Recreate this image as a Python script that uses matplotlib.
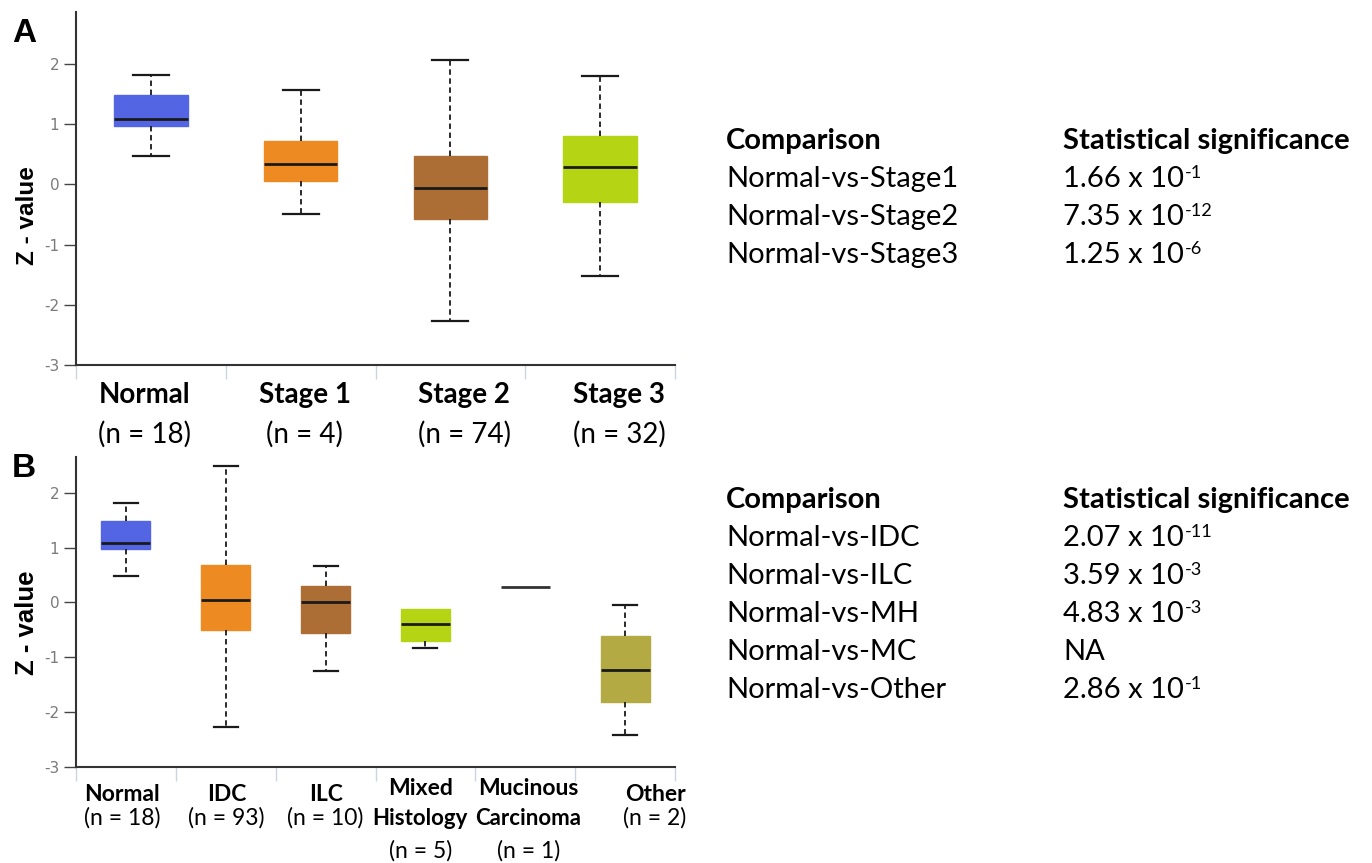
import numpy as np
import matplotlib.pyplot as plt

plt.rcParams['font.family'] = ['Lato', 'DejaVu Sans']
plt.rcParams['axes.unicode_minus'] = False

# panel A: expression by cancer stage
stage_names = [['Normal'], ['Stage 1'], ['Stage 2'], ['Stage 3']]
stage_n = [18, 4, 74, 32]
stage_whislo = [0.47, -0.50, -2.27, -1.52]
stage_q1 = [0.97, 0.06, -0.58, -0.30]
stage_med = [1.08, 0.34, -0.06, 0.28]
stage_q3 = [1.48, 0.72, 0.47, 0.80]
stage_whishi = [1.82, 1.57, 2.07, 1.80]
stage_colors = ['#5465e3', '#ee8a22', '#ad6e35', '#b4d414']

# panel B: expression by histological subtype
hist_names = [['Normal'], ['IDC'], ['ILC'], ['Mixed', 'Histology'],
              ['Mucinous', 'Carcinoma'], ['Other']]
hist_n = [18, 93, 10, 5, 1, 2]
hist_whislo = [0.48, -2.27, -1.25, -0.84, 0.28, -2.42]
hist_q1 = [0.97, -0.50, -0.56, -0.70, 0.28, -1.82]
hist_med = [1.08, 0.04, 0.00, -0.39, 0.28, -1.23]
hist_q3 = [1.48, 0.68, 0.30, -0.12, 0.28, -0.62]
hist_whishi = [1.82, 2.48, 0.67, -0.12, 0.28, -0.04]
hist_colors = ['#5465e3', '#ee8a22', '#ad6e35', '#b4d414', '#333333', '#b4aa44']

stage_cmp = ['Normal-vs-Stage1', 'Normal-vs-Stage2', 'Normal-vs-Stage3']
stage_p = [(1.66, -1), (7.35, -12), (1.25, -6)]
hist_cmp = ['Normal-vs-IDC', 'Normal-vs-ILC', 'Normal-vs-MH',
            'Normal-vs-MC', 'Normal-vs-Other']
hist_p = [(2.07, -11), (3.59, -3), (4.83, -3), None, (2.86, -1)]

W, H = 1372, 863
fig = plt.figure(figsize=(W / 100, H / 100), dpi=100)


def px(x, y):
    return x / W, 1 - y / H


def box_panel(ax, whislo, q1, med, q3, whishi, colors, ytop):
    n = len(med)
    stats = [dict(whislo=a, q1=b, med=c, q3=d, whishi=e, fliers=[])
             for a, b, c, d, e in zip(whislo, q1, med, q3, whishi)]
    art = ax.bxp(stats, positions=np.arange(n), widths=0.49, capwidths=0.24,
                 patch_artist=True, showfliers=False,
                 medianprops=dict(color='#1a1a1a', lw=2),
                 whiskerprops=dict(color='#1a1a1a', lw=1.3, linestyle=(0, (3, 2))),
                 capprops=dict(color='#1a1a1a', lw=1.6))
    for i, patch in enumerate(art['boxes']):
        patch.set_facecolor(colors[i])
        patch.set_edgecolor(colors[i])
        patch.set_linewidth(1)
        if q1[i] == q3[i]:
            # single sample: only the median line is shown
            patch.set_visible(False)
            art['medians'][i].set_color(colors[i])
            art['caps'][2 * i].set_visible(False)
            art['caps'][2 * i + 1].set_visible(False)
        if whishi[i] == q3[i]:
            art['caps'][2 * i + 1].set_visible(False)
        if whislo[i] == q1[i]:
            art['caps'][2 * i].set_visible(False)

    ax.set_xlim(-0.5, n - 0.5)
    ax.set_ylim(-3, ytop)
    ax.set_xticks([])
    ax.set_xticks(np.arange(-0.5, n), minor=True)
    ax.set_yticks(np.arange(-3, 3))
    ax.tick_params(axis='x', which='minor', length=10, width=1, color='#c9d5e3')
    ax.tick_params(axis='y', length=9, width=1, color='#444444',
                   labelcolor='#7a7a7a', labelsize=11, pad=3,
                   labelfontfamily='Liberation Sans Narrow')
    for s in ['top', 'right']:
        ax.spines[s].set_visible(False)
    for s in ['left', 'bottom']:
        ax.spines[s].set_color('#333333')
        ax.spines[s].set_linewidth(1.5)


def cat_label(ax, i, text, dx, dy, size, bold):
    ax.annotate(text, xy=(i, 0), xycoords=ax.get_xaxis_transform(),
                xytext=(dx, -dy), textcoords='offset pixels',
                ha='center', va='center', fontsize=size,
                fontweight='bold' if bold else 'normal', color='black')


def p_text(x, y, p, size):
    if p is None:
        fig.text(*px(x, y), 'NA', fontsize=size, va='center')
        return
    base = fig.text(*px(x, y), '%.2f x 10' % p[0], fontsize=size, va='center')
    # exponent raised against the right end of the mantissa text
    plt.annotate('%d' % p[1], xy=(1, 1.02), xycoords=base,
                 xytext=(1, 0), textcoords='offset pixels',
                 fontsize=size * 0.62, va='top', ha='left',
                 annotation_clip=False)


# ---- panel A ----
axA = fig.add_axes([76 / W, 1 - 365 / H, 599 / W, 353 / H])
box_panel(axA, stage_whislo, stage_q1, stage_med, stage_q3, stage_whishi,
          stage_colors, 2.86)
shiftA = [-6, 4, 14, 19]
for i, name in enumerate(stage_names):
    cat_label(axA, i, name[0], shiftA[i], 30, 20, True)
    cat_label(axA, i, '(n = %d)' % stage_n[i], shiftA[i], 69, 20, False)

# ---- panel B ----
axB = fig.add_axes([76 / W, 1 - 767 / H, 599 / W, 310 / H])
box_panel(axB, hist_whislo, hist_q1, hist_med, hist_q3, hist_whishi,
          hist_colors, 2.65)
shiftB = [-4, 1, 0, -5, 3, 30]
for i, name in enumerate(hist_names):
    if len(name) == 1:
        cat_label(axB, i, name[0], shiftB[i], 27, 16.5, True)
        cat_label(axB, i, '(n = %d)' % hist_n[i], shiftB[i], 51, 16.5, False)
    else:
        cat_label(axB, i, name[0], shiftB[i], 21, 16.5, True)
        cat_label(axB, i, name[1], shiftB[i], 51, 16, True)
        cat_label(axB, i, '(n = %d)' % hist_n[i], shiftB[i], 84, 16.5, False)

# panel letters and y labels
for letter, y in [('A', 33), ('B', 468)]:
    fig.text(*px(12, y), letter, family=['Liberation Sans', 'DejaVu Sans'],
             fontweight='bold', fontsize=24, va='center', ha='left')
for y, size in [(216, 17.5), (623, 18.5)]:
    fig.text(*px(27, y), 'Z - value', family=['Liberation Sans', 'DejaVu Sans'],
             fontweight='bold', fontsize=size, rotation=90,
             va='center', ha='center')


# comparison tables
def table(y0, names, pvals):
    fig.text(*px(726, y0), 'Comparison', fontsize=21, fontweight='bold', va='center')
    fig.text(*px(1063, y0), 'Statistical significance', fontsize=21,
             fontweight='bold', va='center')
    for k, (name, p) in enumerate(zip(names, pvals)):
        y = y0 + 38 * (k + 1)
        fig.text(*px(726, y), name, fontsize=21, va='center')
        p_text(1063, y, p, 21)


table(141, stage_cmp, stage_p)
table(500, hist_cmp, hist_p)

fig.savefig('out.png', dpi=100)
